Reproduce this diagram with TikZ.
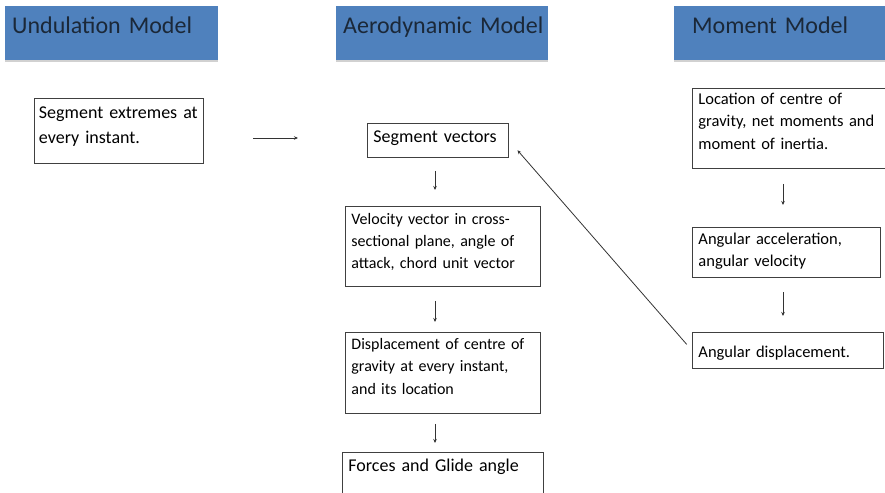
\documentclass[tikz,border=0pt]{standalone}
\usepackage{fontspec}
\setmainfont{Carlito}
\usepackage{xcolor}
\usetikzlibrary{positioning,arrows.meta}

\definecolor{barblue}{HTML}{4F81BD}
\definecolor{bartext}{HTML}{1B2838}

\begin{document}
\begin{tikzpicture}[
  x=1pt, y=-1pt,
  every node/.style={font=\fontsize{16.5}{22.5}\selectfont},
  header/.style={fill=barblue, anchor=north west, inner xsep=7pt, inner ysep=0pt,
    text height=27pt, text depth=27pt, text width=199pt, align=left,
    text=bartext, font=\fontsize{24}{28}\selectfont},
  box/.style={draw=black!75, line width=0.9pt, anchor=north west, inner xsep=6pt,
    inner ysep=0pt, align=left},
  big/.style={font=\fontsize{18}{25}\selectfont},
  arr/.style={draw=black!80, line width=0.8pt, -{Stealth[length=4pt,width=3.5pt]}}
]
\useasboundingbox (0,0) rectangle (885,492);
% column headers
\fill[black!18] (5,60) rectangle (218,62);
\fill[black!18] (336,60) rectangle (548,62);
\fill[black!18] (674,60) rectangle (890,62);
\node[header] (hund) at (5,6) {Undulation Model};
\node[header, text width=198pt] (haero) at (336,6) {\makebox[198pt][l]{Aerodynamic Model}};
\node[header, inner xsep=18pt] (hmom) at (674,6) {Moment Model};

% undulation model
\node[box, big, inner xsep=4.5pt, text width=160pt, text height=20pt, text depth=45pt] (ext) at (34,98)
  {Segment extremes at\\every instant.};
\coordinate (u1) at (253,138);
\coordinate (u2) at (298,138);
\draw[arr] (u1) -- (u2);

% aerodynamic model
\node[box, big, text width=129pt, text height=19pt, text depth=15pt] (sv) at (367,123) {Segment vectors};
\node[box, text width=183pt, text height=18pt, text depth=62pt,
  font=\fontsize{16}{22}\selectfont] (vel) at (345,206)
  {Velocity vector in cross-\\sectional plane, angle of\\attack, chord unit vector};
\node[box, text width=183pt, text height=17pt, text depth=64pt,
  font=\fontsize{16}{22.5}\selectfont] (disp) at (345,332)
  {Displacement of centre of\\gravity at every instant,\\and its location};
\node[box, big, text width=189pt, text height=19pt, text depth=40pt] (force) at (342,452)
  {Forces and Glide angle};
\draw[arr, shorten <=13pt, shorten >=16pt] (sv.south -| 435,0) -- (vel.north -| 435,0);
\draw[arr, shorten <=14pt, shorten >=10pt] (vel.south -| 435,0) -- (disp.north -| 435,0);
\draw[arr, shorten <=10pt, shorten >=9pt] (disp.south -| 435,0) -- (force.north -| 435,0);

% moment model
\node[box, text width=183pt, text height=16pt, text depth=64pt] (cog) at (692,88)
  {Location of centre of\\gravity, net moments and\\moment of inertia.};
\node[box, text width=176pt, text height=17pt, text depth=32.5pt] (acc) at (692,227)
  {Angular acceleration,\\angular velocity};
\node[box, text width=179pt, text height=25pt, text depth=11pt] (adisp) at (692,332)
  {Angular displacement.};
\draw[arr, shorten <=15pt, shorten >=22pt] (cog.south -| 783,0) -- (acc.north -| 783,0);
\draw[arr, shorten <=15pt, shorten >=16pt] (acc.south -| 783,0) -- (adisp.north -| 783,0);
\draw[arr, shorten <=8pt, shorten >=13pt] (adisp.west) -- (sv.east);
\end{tikzpicture}
\end{document}
